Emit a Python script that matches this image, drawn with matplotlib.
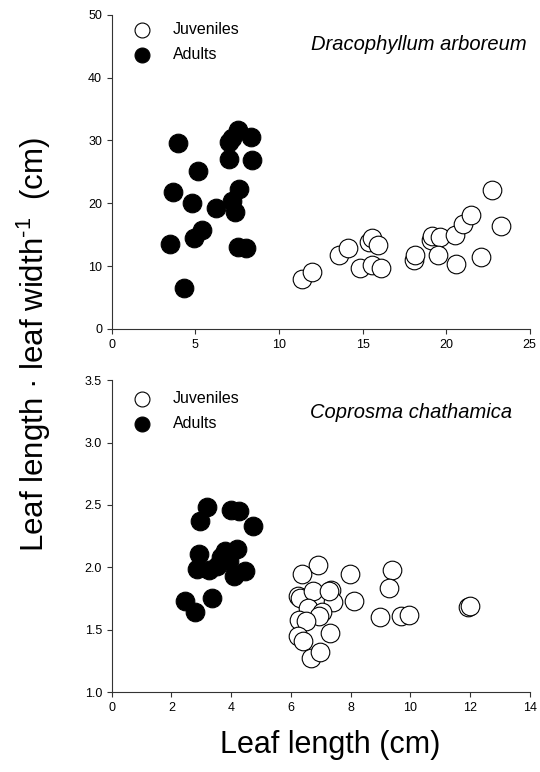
import matplotlib as mpl
mpl.use('Agg')
import matplotlib.pyplot as plt

plt.rcParams['font.family'] = ['Liberation Sans', 'DejaVu Sans']
plt.rcParams['mathtext.fontset'] = 'custom'
plt.rcParams['mathtext.rm'] = 'Liberation Sans'

# Dracophyllum arboreum
draco_adult_x = [7.53, 8.33, 7.03, 7.2, 3.99, 6.99, 8.39, 5.13, 7.59, 3.67, 4.77, 7.19, 6.23,
                 7.39, 5.39, 4.89, 3.47, 7.53, 8.03, 4.29]
draco_adult_y = [31.7, 30.6, 29.8, 30.4, 29.5, 27.0, 26.8, 25.2, 22.3, 21.8, 20.0, 20.3, 19.3,
                 18.6, 15.8, 14.5, 13.5, 13.1, 12.8, 6.5]
draco_juv_x = [11.38, 11.96, 13.58, 14.12, 14.82, 15.41, 15.57, 15.91, 15.57, 16.11, 18.05,
               18.11, 19.11, 19.15, 19.61, 19.51, 20.51, 21.0, 20.61, 21.5, 22.1, 22.76, 23.3]
draco_juv_y = [7.9, 9.0, 11.8, 12.8, 9.7, 13.9, 14.5, 13.3, 10.2, 9.7, 10.9, 11.8, 14.2, 14.8,
               14.6, 11.7, 15.0, 16.7, 10.4, 18.2, 11.5, 22.1, 16.3]

# Coprosma chathamica
copro_adult_x = [3.19, 4.01, 4.27, 2.96, 4.72, 2.91, 4.18, 3.79, 3.66, 3.94, 2.87, 3.27, 3.54,
                 4.10, 4.46, 2.46, 3.35, 2.78]
copro_adult_y = [2.48, 2.46, 2.45, 2.37, 2.33, 2.11, 2.15, 2.13, 2.08, 2.05, 1.99, 1.98, 2.01,
                 1.93, 1.97, 1.73, 1.75, 1.64]
copro_juv_x = [6.90, 6.36, 7.99, 9.38, 9.28, 6.23, 6.29, 6.73, 7.35, 7.40, 8.10, 6.56, 7.04,
               6.95, 6.26, 6.49, 8.97, 9.69, 9.95, 11.93, 11.99, 6.23, 6.40, 7.31, 6.68, 6.98, 7.29]
copro_juv_y = [2.02, 1.95, 1.95, 1.98, 1.83, 1.77, 1.75, 1.81, 1.82, 1.72, 1.73, 1.67, 1.64,
               1.61, 1.58, 1.57, 1.60, 1.61, 1.62, 1.68, 1.69, 1.45, 1.41, 1.47, 1.27, 1.32, 1.81]

fig = plt.figure(figsize=(5.4, 7.72), dpi=100)
ax1 = fig.add_axes([0.207, 0.574, 0.774, 0.407])
ax2 = fig.add_axes([0.207, 0.1036, 0.774, 0.404])

msize = 180


def style(ax):
    for s in ['top', 'right']:
        ax.spines[s].set_visible(False)
    for s in ['left', 'bottom']:
        ax.spines[s].set_linewidth(0.8)
        ax.spines[s].set_color('#333333')
    ax.tick_params(direction='out', length=3.5, width=0.8, labelsize=9, colors='#333333',
                   labelcolor='black')


ax1.scatter(draco_juv_x, draco_juv_y, s=msize, facecolor='white', edgecolor='black',
            linewidth=0.8, label='Juveniles', zorder=3)
ax1.scatter(draco_adult_x, draco_adult_y, s=msize, facecolor='black', edgecolor='black',
            linewidth=0.8, label='Adults', zorder=3)
ax1.set_xlim(0, 25)
ax1.set_ylim(0, 50)
ax1.set_xticks([0, 5, 10, 15, 20, 25])
ax1.set_yticks([0, 10, 20, 30, 40, 50])
style(ax1)
ax1.legend(loc='upper left', bbox_to_anchor=(0.0, 1.022), frameon=False, fontsize=11.5,
           markerscale=0.8, handletextpad=0.9, labelspacing=0.6, borderpad=0.4)
ax1.text(0.993, 0.905, 'Dracophyllum arboreum', transform=ax1.transAxes, ha='right',
         va='center', fontsize=14.5, style='italic')

ax2.scatter(copro_juv_x, copro_juv_y, s=msize, facecolor='white', edgecolor='black',
            linewidth=0.8, label='Juveniles', zorder=3)
ax2.scatter(copro_adult_x, copro_adult_y, s=msize, facecolor='black', edgecolor='black',
            linewidth=0.8, label='Adults', zorder=3)
ax2.set_xlim(0, 14)
ax2.set_ylim(1.0, 3.5)
ax2.set_xticks([0, 2, 4, 6, 8, 10, 12, 14])
ax2.set_yticks([1.0, 1.5, 2.0, 2.5, 3.0, 3.5])
ax2.set_yticklabels(['1.0', '1.5', '2.0', '2.5', '3.0', '3.5'])
style(ax2)
ax2.legend(loc='upper left', bbox_to_anchor=(0.0, 1.01), frameon=False, fontsize=11.5,
           markerscale=0.8, handletextpad=0.9, labelspacing=0.6, borderpad=0.4)
ax2.text(0.957, 0.897, 'Coprosma chathamica', transform=ax2.transAxes, ha='right',
         va='center', fontsize=14.5, style='italic')

fig.text(0.063, 0.554, 'Leaf length \u00b7 leaf width$^{\\text{-1}}$  (cm)', rotation=90,
         ha='center', va='center', fontsize=22.5)
fig.text(0.611, 0.035, 'Leaf length (cm)', ha='center', va='center', fontsize=22)

fig.savefig('out.png', dpi=100)
